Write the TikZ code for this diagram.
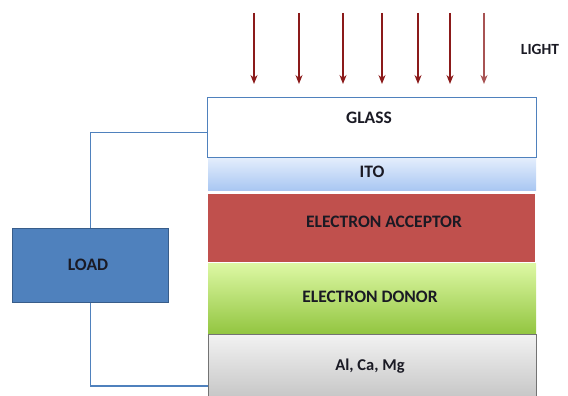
\documentclass[tikz,border=0pt]{standalone}
\usepackage{fontspec}
\setmainfont{Carlito}
\usepackage{tikz}
\usetikzlibrary{positioning,arrows.meta}

\definecolor{wireblue}{HTML}{4F81BD}
\definecolor{loadedge}{HTML}{385D8A}
\definecolor{acceptred}{HTML}{C0504D}
\definecolor{lightred}{HTML}{8B1A1A}
\definecolor{itotop}{HTML}{E3EDFC}
\definecolor{itobot}{HTML}{A9C7F2}
\definecolor{donortop}{HTML}{DDF8A4}
\definecolor{donorbot}{HTML}{92C540}
\definecolor{metaltop}{HTML}{F2F2F2}
\definecolor{metalbot}{HTML}{C6C6C6}
\definecolor{inkdark}{HTML}{1A1A24}

\tikzset{
  layer/.style={rectangle, minimum width=328pt, inner sep=0pt, anchor=north west},
  tag/.style={font=\fontsize{17.5}{20}\selectfont\bfseries, text=inkdark, inner sep=0pt},
  ray/.style={-{Stealth[length=9pt,width=7pt]}, line width=1.4pt, draw=lightred},
  wire/.style={wireblue, line width=1.8pt}
}

\begin{document}
\begin{tikzpicture}[x=1pt, y=-1pt]
  \useasboundingbox (0,0) rectangle (568,396);

  % stack of layers
  \node[layer, draw=wireblue, line width=1pt, fill=white, minimum width=329pt,
        minimum height=60pt] (glass) at (207,97) {};
  \node[layer, top color=itotop, bottom color=itobot, minimum height=32pt] (ito) at (208,158) {};
  \node[layer, fill=acceptred, minimum height=68pt, minimum width=327pt] (acceptor) at (208,194) {};
  \node[layer, top color=donortop, bottom color=donorbot, minimum height=71pt] (donor) at (208,263) {};
  \node[layer, top color=metaltop, bottom color=metalbot, draw=black!55, line width=0.6pt,
        minimum height=64pt] (metal) at (208,334) {};

  \node[tag] (glasstext) at (369,118) {GLASS};
  \node[tag] (itotext) at (372,172) {ITO};
  \node[tag] (acceptortext) at (384,222) {ELECTRON ACCEPTOR};
  \node[tag] (donortext) at (370,297) {ELECTRON DONOR};
  \node[tag, font=\fontsize{16.5}{19}\selectfont\bfseries] (metaltext) at (370,366) {Al, Ca, Mg};

  % load and wires
  \node[rectangle, fill=wireblue, draw=loadedge, line width=1pt, anchor=north west,
        minimum width=156pt, minimum height=74pt] (load) at (12,228) {};
  \node[tag] (loadtext) at (88,265) {LOAD};
  \draw[wire] ([yshift=-5pt]glass.west) -| (load.north);
  \draw[wire] (load.south) |- ([yshift=-20pt]metal.west);

  % light
  \foreach \x in {254,299,343,382,418,450}
    \draw[ray] (\x,13) -- (\x,84);
  \draw[ray, draw=lightred!75] (484,13) -- (484,84);
  \node[tag, font=\fontsize{15.5}{18}\selectfont\bfseries] (light) at (540,49) {LIGHT};
\end{tikzpicture}
\end{document}
